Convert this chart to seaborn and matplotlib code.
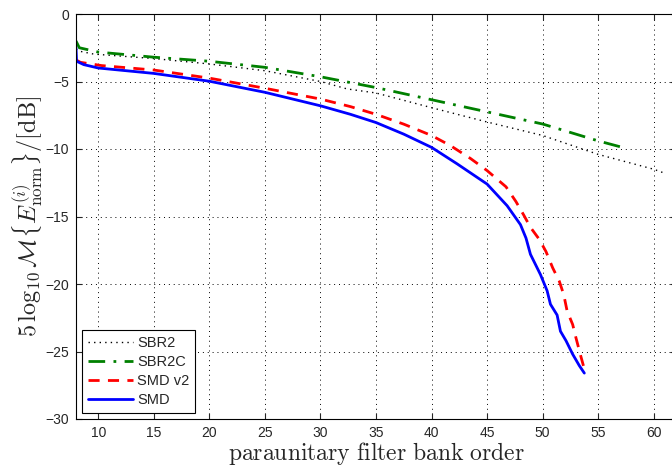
import numpy as np
import pandas as pd
import seaborn as sns
import matplotlib
matplotlib.use('Agg')
import matplotlib.pyplot as plt

# values
sbr2_x = [8, 8.4, 9.6, 15, 20, 25, 30, 32.4, 35, 40, 45, 50, 55, 60, 61]
sbr2_y = [-2.6, -2.77, -2.97, -3.3, -3.7, -4.2, -5.0, -5.55, -5.85, -6.94, -8.0, -9.0, -10.4, -11.5, -11.8]

sbr2c_x = [8, 8.3, 10, 15, 20, 25, 30, 35, 40, 45, 50, 55, 57.5]
sbr2c_y = [-2.0, -2.5, -2.82, -3.2, -3.5, -3.95, -4.65, -5.45, -6.35, -7.25, -8.15, -9.4, -9.95]

smdv2_x = [8, 8.4, 10.3, 15, 20, 25, 30, 32.7, 35, 37.5, 40, 41.7, 43.5, 45.0, 46.7,
           47.6, 48.3, 48.9, 49.7, 50.3, 50.9, 51.5, 51.9, 52.2, 52.7, 53.0, 53.45, 53.75]
smdv2_y = [-3.4, -3.58, -3.82, -4.15, -4.75, -5.5, -6.3, -6.86, -7.43, -8.16, -9.0, -9.75, -10.7, -11.6, -12.8,
           -13.9, -14.9, -15.8, -16.7, -17.6, -18.8, -19.8, -20.8, -22.0, -23.0, -24.0, -25.4, -26.3]

smd_x = [8, 8.05, 8.7, 10, 15, 20, 25, 30, 32.7, 35, 37.5, 40, 42.3, 44.1, 45, 46.8,
         48.0, 48.5, 48.9, 49.8, 50.4, 50.7, 51.3, 51.6, 52.1, 52.7, 53.3, 53.75]
smd_y = [-2.5, -3.5, -3.75, -4.0, -4.4, -4.98, -5.8, -6.8, -7.43, -8.04, -8.9, -9.88, -11.1, -12.1, -12.6, -14.2,
         -15.6, -16.6, -17.8, -19.3, -20.5, -21.5, -22.3, -23.5, -24.2, -25.2, -26.05, -26.6]

x_ticks = [10, 15, 20, 25, 30, 35, 40, 45, 50, 55, 60]
y_ticks = [-30, -25, -20, -15, -10, -5, 0]

sns.set_style('ticks')
plt.rcParams['font.family'] = ['Liberation Sans', 'DejaVu Sans']
plt.rcParams['mathtext.fontset'] = 'cm'

fig = plt.figure(figsize=(6.72, 4.68), dpi=100)
ax = fig.add_axes([76 / 672, 49 / 468, 600 / 672, 405 / 468])

series = [
    ('SBR2', sbr2_x, sbr2_y, 'black', (0, (1, 3)), 1.0),
    ('SBR2C', sbr2c_x, sbr2c_y, '#008000', (0, (6, 3, 1, 3)), 2.0),
    ('SMD v2', smdv2_x, smdv2_y, 'red', (0, (4, 3)), 2.0),
    ('SMD', smd_x, smd_y, 'blue', '-', 2.0),
]
for name, xs, ys, col, ls, lw in series:
    df = pd.DataFrame({'order': xs, 'val': ys})
    sns.lineplot(data=df, x='order', y='val', ax=ax, color=col, linestyle=ls,
                 linewidth=lw, label=name, sort=False, estimator=None)

ax.set_xlim(8, 62)
ax.set_ylim(-30, 0)
ax.set_xticks(x_ticks)
ax.set_yticks(y_ticks)
ax.tick_params(direction='in', top=True, right=True, labelsize=10, length=4, width=0.8, pad=5)
ax.grid(True, color='black', linestyle=(0, (1, 4)), linewidth=0.7)
for sp in ax.spines.values():
    sp.set_linewidth(0.8)
    sp.set_color('black')

ax.set_xlabel(r'$\mathrm{paraunitary\ filter\ bank\ order}$', fontsize=17, labelpad=0)
ax.set_ylabel(r'$5\,\log_{10}\mathcal{M}\{E^{(i)}_{\mathrm{norm}}\}/[\mathrm{dB}]$', fontsize=17.5, labelpad=0)

leg = ax.legend(loc='lower left', fontsize=10.5, handlelength=3.1, fancybox=False,
                framealpha=1, edgecolor='black', borderaxespad=0.4, labelspacing=0.35,
                handletextpad=0.3, borderpad=0.4)
leg.get_frame().set_linewidth(0.8)

fig.savefig('out.png', dpi=100)
